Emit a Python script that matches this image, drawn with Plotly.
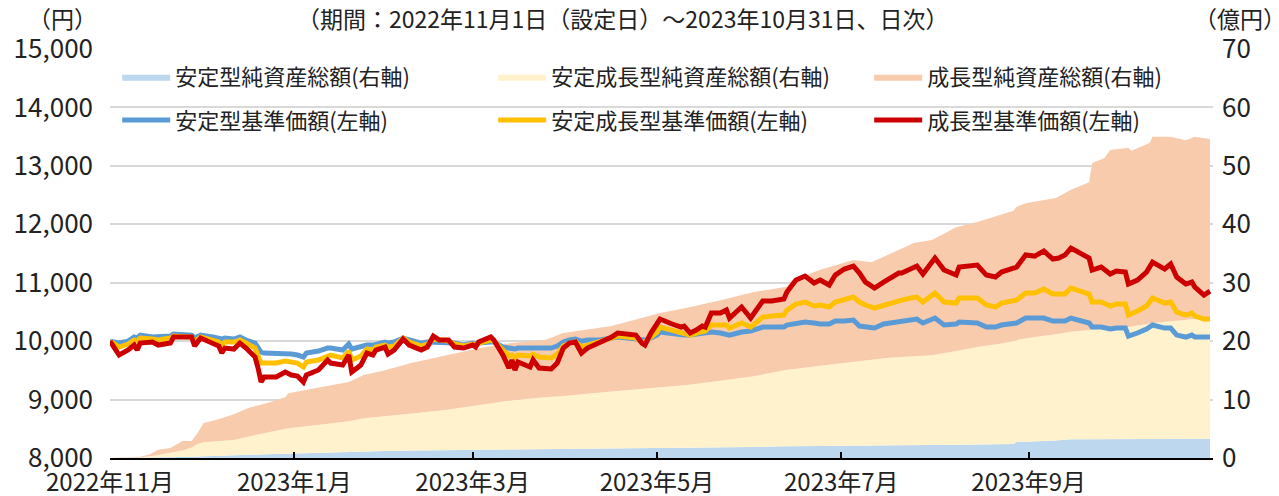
import plotly.graph_objects as go

# ---------------- data ----------------
line_dates = [
    "2022-11-01", "2022-11-04", "2022-11-07", "2022-11-09", "2022-11-10", "2022-11-11", "2022-11-15", "2022-11-17", "2022-11-21", "2022-11-22",
    "2022-11-28", "2022-11-29", "2022-12-01", "2022-12-05", "2022-12-07", "2022-12-08", "2022-12-09", "2022-12-12", "2022-12-14", "2022-12-16",
    "2022-12-19", "2022-12-20", "2022-12-21", "2022-12-22", "2022-12-26", "2022-12-29", "2022-12-31", "2023-01-02", "2023-01-04", "2023-01-05",
    "2023-01-09", "2023-01-12", "2023-01-13", "2023-01-17", "2023-01-19", "2023-01-20", "2023-01-23", "2023-01-25", "2023-01-27", "2023-01-28",
    "2023-01-31", "2023-02-01", "2023-02-03", "2023-02-06", "2023-02-08", "2023-02-12", "2023-02-14", "2023-02-16", "2023-02-18", "2023-02-21",
    "2023-02-23", "2023-02-26", "2023-03-01", "2023-03-02", "2023-03-03", "2023-03-07", "2023-03-08", "2023-03-11", "2023-03-13", "2023-03-14",
    "2023-03-15", "2023-03-16", "2023-03-19", "2023-03-20", "2023-03-21", "2023-03-23", "2023-03-27", "2023-03-29", "2023-03-31", "2023-04-02",
    "2023-04-04", "2023-04-06", "2023-04-08", "2023-04-12", "2023-04-14", "2023-04-16", "2023-04-18", "2023-04-21", "2023-04-23", "2023-04-24",
    "2023-04-26", "2023-04-27", "2023-04-29", "2023-05-01", "2023-05-02", "2023-05-06", "2023-05-09", "2023-05-10", "2023-05-12", "2023-05-14",
    "2023-05-16", "2023-05-17", "2023-05-19", "2023-05-22", "2023-05-24", "2023-05-25", "2023-05-29", "2023-06-01", "2023-06-05", "2023-06-08",
    "2023-06-12", "2023-06-13", "2023-06-16", "2023-06-19", "2023-06-22", "2023-06-24", "2023-06-27", "2023-06-29", "2023-07-02", "2023-07-05",
    "2023-07-07", "2023-07-09", "2023-07-12", "2023-07-15", "2023-07-17", "2023-07-20", "2023-07-21", "2023-07-24", "2023-07-26", "2023-07-28",
    "2023-08-01", "2023-08-04", "2023-08-08", "2023-08-09", "2023-08-15", "2023-08-18", "2023-08-21", "2023-08-23", "2023-08-28", "2023-08-31",
    "2023-09-03", "2023-09-06", "2023-09-09", "2023-09-11", "2023-09-13", "2023-09-15", "2023-09-18", "2023-09-21", "2023-09-22", "2023-09-25",
    "2023-09-28", "2023-09-30", "2023-10-03", "2023-10-04", "2023-10-07", "2023-10-10", "2023-10-12", "2023-10-16", "2023-10-18", "2023-10-20",
    "2023-10-23", "2023-10-25", "2023-10-26", "2023-10-29", "2023-10-31",
]

# 成長型 基準価額 (円)
growth_nav = [
    10000, 9762, 9848, 9933, 9848, 9967, 9985, 9933, 9967, 10070,
    10070, 9916, 10053, 9967, 9916, 9796, 9882, 9865, 9967, 9882,
    9728, 9540, 9300, 9386, 9386, 9471, 9420, 9403, 9300, 9420,
    9506, 9677, 9625, 9591, 9762, 9471, 9591, 9796, 9762, 9848,
    9899, 9779, 9848, 10036, 9933, 9848, 9899, 10087, 10019, 10019,
    9899, 9882, 9933, 9899, 9985, 10070, 10019, 9762, 9540, 9677,
    9506, 9642, 9591, 9557, 9677, 9540, 9523, 9625, 9882, 9967,
    9985, 9796, 9882, 9967, 10019, 10070, 10139, 10122, 10104, 10104,
    9967, 9933, 10139, 10327, 10378, 10293, 10241, 10258, 10139, 10190,
    10258, 10241, 10481, 10481, 10532, 10395, 10584, 10395, 10686, 10686,
    10721, 10840, 11046, 11114, 10994, 11046, 10960, 11131, 11234, 11285,
    11166, 11011, 10909, 11011, 11080, 11166, 11166, 11251, 11285, 11148,
    11422, 11217, 11131, 11268, 11302, 11131, 11097, 11183, 11268, 11474,
    11456, 11542, 11405, 11422, 11474, 11593, 11508, 11422, 11217, 11268,
    11148, 11200, 11183, 10977, 11046, 11183, 11354, 11234, 11320, 11097,
    10977, 11011, 10926, 10789, 10857,
]

# 安定成長型 基準価額 (円)
moderate_nav = [
    10000, 9899, 9950, 10019, 10002, 10053, 10036, 10019, 10053, 10087,
    10070, 9985, 10070, 10019, 9985, 9933, 9985, 9985, 10019, 9967,
    9882, 9745, 9625, 9625, 9625, 9660, 9642, 9625, 9557, 9642,
    9677, 9745, 9762, 9711, 9831, 9677, 9745, 9865, 9848, 9899,
    9933, 9899, 9916, 10053, 9985, 9916, 9950, 10036, 10019, 10002,
    9950, 9916, 9950, 9933, 9967, 10019, 10002, 9848, 9745, 9762,
    9711, 9762, 9762, 9745, 9779, 9728, 9711, 9779, 9916, 9967,
    9985, 9899, 9933, 10002, 10036, 10070, 10087, 10070, 10053, 10053,
    9985, 9985, 10070, 10156, 10241, 10190, 10156, 10139, 10104, 10139,
    10156, 10173, 10276, 10276, 10276, 10224, 10310, 10241, 10412, 10430,
    10447, 10532, 10635, 10669, 10601, 10618, 10584, 10669, 10703, 10755,
    10669, 10618, 10567, 10618, 10652, 10703, 10703, 10738, 10755, 10669,
    10823, 10669, 10652, 10738, 10738, 10618, 10584, 10652, 10703, 10823,
    10823, 10892, 10806, 10806, 10806, 10909, 10857, 10806, 10669, 10669,
    10601, 10635, 10635, 10447, 10515, 10601, 10738, 10652, 10669, 10498,
    10447, 10481, 10430, 10378, 10378,
]

# 安定型 基準価額 (円)
stable_nav = [
    10000, 9967, 10000, 10070, 10053, 10104, 10070, 10070, 10087, 10122,
    10104, 10053, 10104, 10070, 10053, 10036, 10053, 10036, 10070, 10019,
    9967, 9882, 9813, 9796, 9796, 9796, 9779, 9762, 9728, 9796,
    9831, 9882, 9882, 9848, 9950, 9865, 9899, 9933, 9933, 9950,
    9985, 9967, 9985, 10053, 10019, 9967, 9985, 9985, 9985, 9985,
    9967, 9933, 9967, 9950, 9967, 9985, 9985, 9899, 9882, 9882,
    9865, 9882, 9882, 9865, 9882, 9882, 9882, 9916, 9985, 10019,
    10036, 10000, 10019, 10019, 10036, 10070, 10070, 10053, 10036, 10036,
    10019, 10019, 10053, 10104, 10156, 10122, 10104, 10104, 10104, 10122,
    10139, 10156, 10156, 10139, 10122, 10104, 10156, 10173, 10241, 10241,
    10241, 10276, 10310, 10327, 10310, 10293, 10293, 10344, 10344, 10361,
    10258, 10241, 10224, 10293, 10310, 10344, 10344, 10361, 10378, 10310,
    10395, 10276, 10293, 10327, 10310, 10241, 10241, 10276, 10310, 10395,
    10395, 10395, 10344, 10344, 10344, 10395, 10361, 10310, 10241, 10241,
    10207, 10224, 10224, 10087, 10139, 10207, 10276, 10224, 10224, 10104,
    10070, 10104, 10070, 10070, 10070,
]

area_dates = [
    "2022-11-01", "2022-11-11", "2022-11-14", "2022-11-17", "2022-11-21", "2022-11-25", "2022-11-28", "2022-11-30", "2022-12-02", "2022-12-06",
    "2022-12-12", "2022-12-17", "2022-12-23", "2022-12-29", "2022-12-30", "2023-01-08", "2023-01-19", "2023-01-24", "2023-01-31", "2023-02-09",
    "2023-02-20", "2023-03-03", "2023-03-14", "2023-03-25", "2023-03-31", "2023-04-16", "2023-05-02", "2023-05-11", "2023-05-22", "2023-06-02",
    "2023-06-13", "2023-06-15", "2023-06-24", "2023-07-05", "2023-07-11", "2023-07-16", "2023-07-25", "2023-07-31", "2023-08-08", "2023-08-15",
    "2023-08-23", "2023-08-27", "2023-08-28", "2023-08-31", "2023-09-10", "2023-09-15", "2023-09-21", "2023-09-22", "2023-09-26", "2023-09-28",
    "2023-10-04", "2023-10-05", "2023-10-11", "2023-10-12", "2023-10-18", "2023-10-23", "2023-10-26", "2023-10-31",
]

# 純資産総額 (億円)
stable_assets = [
    0, 0.02, 0.03, 0.05, 0.1, 0.15, 0.2, 0.25, 0.3, 0.35,
    0.45, 0.55, 0.65, 0.75, 0.75, 0.9, 1.1, 1.15, 1.2, 1.3,
    1.35, 1.4, 1.5, 1.55, 1.6, 1.65, 1.7, 1.75, 1.8, 1.9,
    2.0, 2.0, 2.05, 2.1, 2.15, 2.15, 2.2, 2.2, 2.25, 2.3,
    2.4, 2.4, 2.8, 2.8, 3.0, 3.2, 3.2, 3.2, 3.25, 3.25,
    3.3, 3.3, 3.3, 3.3, 3.3, 3.3, 3.3, 3.3,
]
moderate_assets = [
    0, 0.08, 0.27, 0.45, 0.8, 1.15, 1.6, 2.15, 2.4, 2.55,
    2.65, 3.15, 3.65, 4.15, 4.35, 4.7, 5.2, 5.65, 5.9, 6.3,
    6.85, 7.6, 8.4, 8.85, 9.0, 9.75, 10.4, 10.75, 11.4, 12.1,
    13.1, 13.2, 13.75, 14.3, 14.65, 14.95, 15.2, 15.4, 16.05, 16.7,
    17.2, 17.6, 17.4, 17.7, 18.2, 18.4, 18.7, 18.8, 18.95, 19.05,
    19.1, 19.2, 19.7, 19.8, 20.1, 20.4, 20.5, 20.7,
]
growth_assets = [
    0, 0.1, 0.3, 0.9, 0.8, 1.6, 1.1, 1.9, 3.3, 3.6,
    4.4, 4.9, 5.1, 5.5, 6.0, 6.4, 6.7, 7.4, 7.9, 8.7,
    9.4, 9.8, 9.8, 9.8, 10.8, 11.2, 12.7, 13.2, 13.8, 14.4,
    14.2, 15.3, 16.4, 17.5, 16.7, 17.6, 19.4, 19.7, 21.2, 21.4,
    22.0, 22.3, 22.8, 23.1, 23.3, 24.3, 25.3, 28.5, 29.1, 30.4,
    30.7, 30.1, 30.9, 31.9, 31.6, 30.7, 31.2, 30.6,
]

tick_dates = ["2022-11-01", "2023-01-01", "2023-03-01", "2023-05-01", "2023-07-01", "2023-09-01", "2023-11-01"]
tick_labels = ["2022年11月", "2023年1月", "2023年3月", "2023年5月", "2023年7月", "2023年9月", ""]

area_names = ["安定型純資産総額(右軸)", "安定成長型純資産総額(右軸)", "成長型純資産総額(右軸)"]
line_names = ["安定型基準価額(左軸)", "安定成長型基準価額(左軸)", "成長型基準価額(左軸)"]

# ---------------- styling ----------------
FONT = "Noto Sans CJK JP"
TXT = "#222222"
area_colors = ["#BDD7EE", "#FFF2CC", "#F8CBAD"]
line_colors = ["#5B9BD5", "#FFC000", "#CC0000"]

fig = go.Figure()

for name, vals, col, lw in zip(area_names, [stable_assets, moderate_assets, growth_assets], area_colors, [313, 313, 250]):
    fig.add_trace(go.Scatter(
        x=area_dates, y=vals, name=name, mode="lines", stackgroup="assets",
        line=dict(width=0, color=col), fillcolor=col, yaxis="y",
        legend="legend", legendwidth=lw, hoverinfo="skip",
    ))

for name, vals, col, lw in zip(line_names, [stable_nav, moderate_nav, growth_nav], line_colors, [313, 313, 250]):
    fig.add_trace(go.Scatter(
        x=line_dates, y=vals, name=name, mode="lines",
        line=dict(width=5, color=col), yaxis="y2",
        legend="legend2", legendwidth=lw, hoverinfo="skip",
    ))

legend_common = dict(
    orientation="h", xanchor="left", yanchor="middle", x=0.0065,
    font=dict(family=FONT, size=22, color=TXT),
    bgcolor="rgba(0,0,0,0)", itemwidth=48, entrywidthmode="pixels",
    traceorder="normal",
)

fig.update_layout(
    width=1279, height=496,
    margin=dict(l=110, r=66, t=49, b=38, autoexpand=False),
    paper_bgcolor="white", plot_bgcolor="white",
    font=dict(family=FONT, color=TXT),
    showlegend=True,
    legend=dict(**legend_common, y=0.9315),
    legend2=dict(**legend_common, y=0.826),
    xaxis=dict(
        type="date", range=["2022-11-01", "2023-11-01"],
        tickmode="array", tickvals=tick_dates, ticktext=tick_labels,
        ticks="inside", ticklen=6, tickwidth=2, tickcolor="black",
        showline=True, linecolor="black", linewidth=2,
        showgrid=False, zeroline=False, automargin=False,
        tickfont=dict(family=FONT, size=24, color=TXT),
        ticklabelstandoff=2,
    ),
    yaxis=dict(
        side="right", range=[0, 70], dtick=10, tick0=0,
        showgrid=True, gridcolor="#D9D9D9", gridwidth=2,
        zeroline=False, showline=False, ticks="", automargin=False,
        tickfont=dict(family=FONT, size=26, color=TXT),
        ticklabelstandoff=8,
    ),
    yaxis2=dict(
        overlaying="y", side="left", range=[8000, 15000], dtick=1000, tick0=8000,
        tickformat=",", showgrid=False, zeroline=False, showline=False, ticks="",
        automargin=False,
        tickfont=dict(family=FONT, size=26, color=TXT),
        ticklabelstandoff=16,
    ),
    annotations=[
        dict(text="（期間：2022年11月1日（設定日）～2023年10月31日、日次）", xref="paper", yref="paper",
             x=0.465, y=1.0758, xanchor="center", yanchor="middle", showarrow=False,
             font=dict(family=FONT, size=23, color=TXT)),
        dict(text="（円）", xref="paper", yref="paper", x=-0.0435, y=1.0758,
             xanchor="center", yanchor="middle", showarrow=False,
             font=dict(family=FONT, size=23, color=TXT)),
        dict(text="（億円）", xref="paper", yref="paper", x=1.0245, y=1.0758,
             xanchor="center", yanchor="middle", showarrow=False,
             font=dict(family=FONT, size=23, color=TXT)),
    ],
)

fig.write_html(
    "out.html",
    config={"displayModeBar": False},
    post_script="document.body.style.margin='0';document.body.style.overflow='hidden';",
)
